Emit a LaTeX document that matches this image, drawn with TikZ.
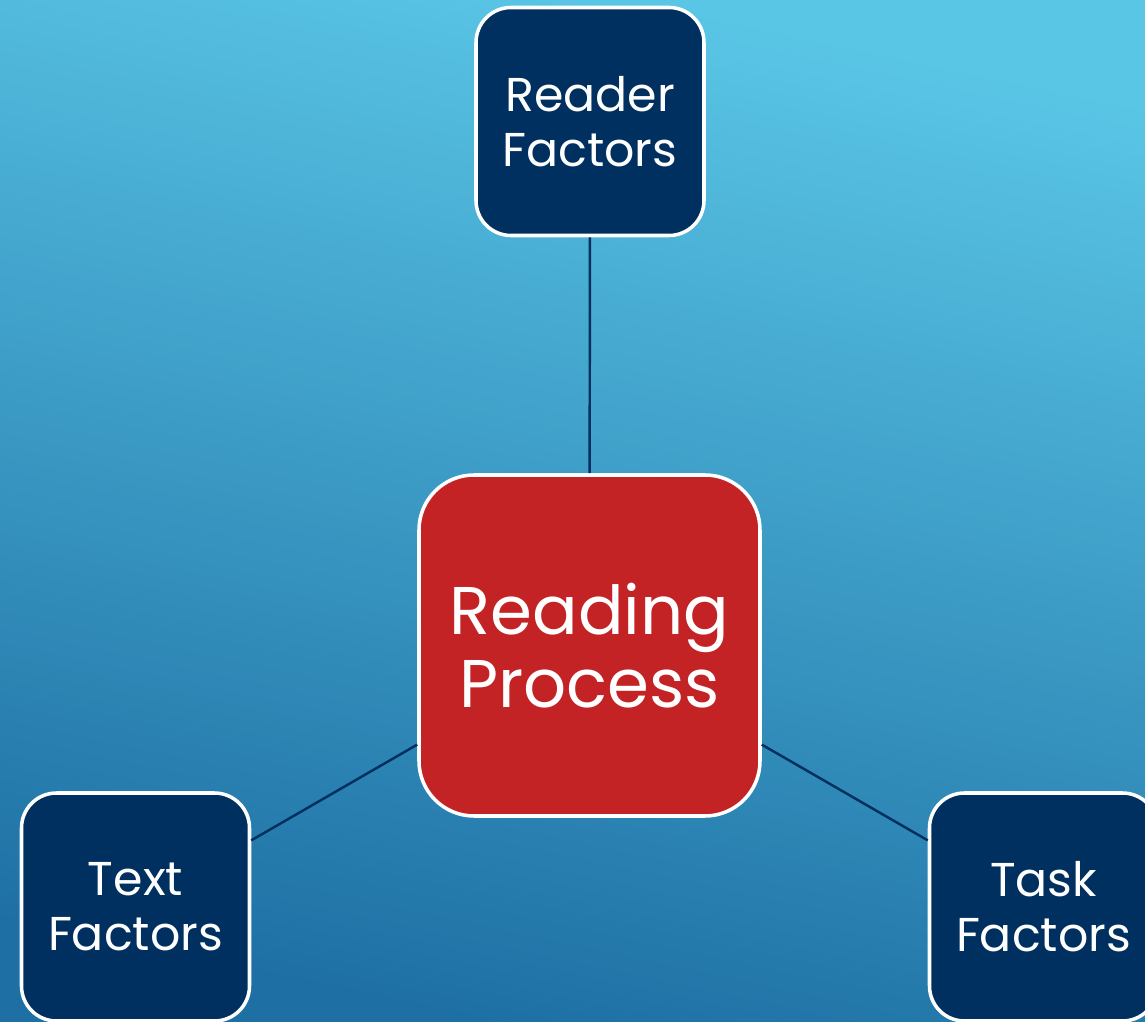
\documentclass[tikz,border=0pt]{standalone}
\usepackage{fontspec}
\setmainfont{Poppins}
\usetikzlibrary{positioning}

\definecolor{navyfill}{RGB}{0,48,96}
\definecolor{redfill}{RGB}{196,35,38}
\definecolor{bgtop}{RGB}{90,198,230}
\definecolor{bgbottom}{RGB}{30,112,164}

\begin{document}
\begin{tikzpicture}[
			factor/.style={draw=white, line width=1pt, rectangle, rounded corners=0.35cm, fill=navyfill, text=white, minimum width=2.28cm, minimum height=2.28cm, align=center, font=\fontsize{13.5}{15.6}\selectfont},
			core/.style={draw=white, line width=1pt, rectangle, rounded corners=0.55cm, fill=redfill, text=white, minimum width=3.41cm, minimum height=3.41cm, align=center, font=\fontsize{19.2}{20.8}\selectfont},
			link/.style={draw=navyfill, line width=0.7pt}
			]
			
			% Background
			\clip (0,0) rectangle (11.45,-10.22);
			\shade[top color=bgtop, bottom color=bgbottom, shading angle=-12] (0,0) rectangle (11.45,-10.22);
			
			% Central box
			\node[core] (process) at (5.895,-6.455) {Reading\\Process};
			
			% Factor boxes round it
			\node[factor] (reader) at (5.90,-1.215) {Reader\\Factors};
			\node[factor] (text) at (1.355,-9.07) {Text\\Factors};
			\node[factor] (task) at (10.435,-9.07) {Task\\Factors};
			
			% Links
			\draw[link] (process) -- (reader);
			\draw[link] (process) -- (text);
			\draw[link] (process) -- (task);
			
		\end{tikzpicture}
\end{document}
